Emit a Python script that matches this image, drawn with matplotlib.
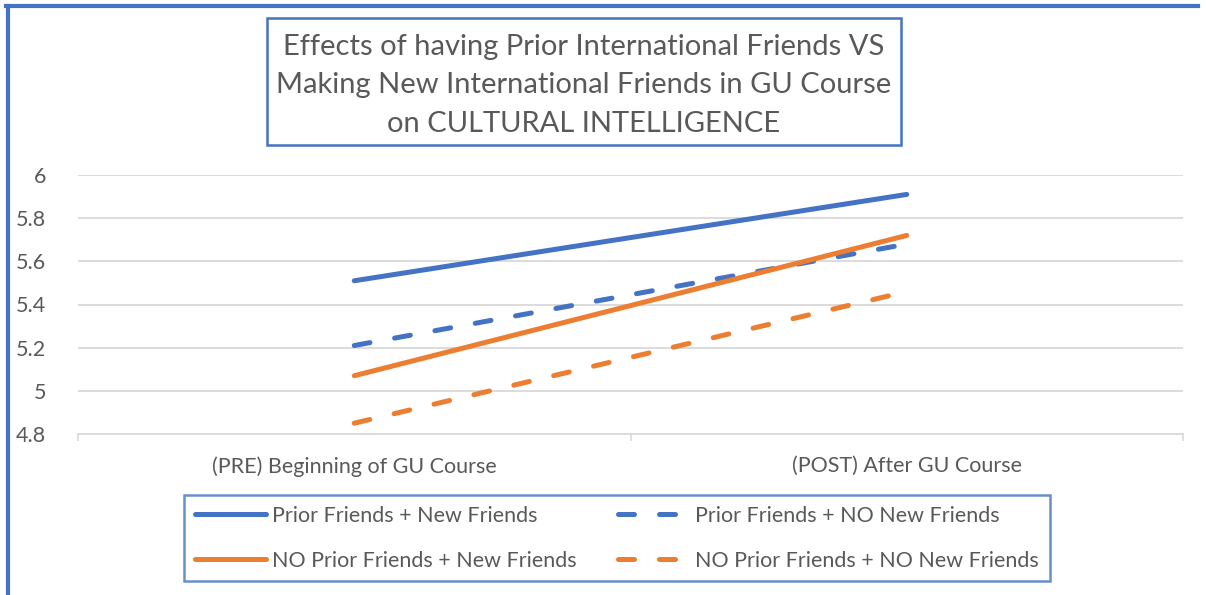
import numpy as np
import matplotlib.pyplot as plt
from matplotlib.patches import Rectangle
from matplotlib.lines import Line2D

plt.rcParams['font.family'] = ['Lato', 'DejaVu Sans']

categories = ['(PRE) Beginning of GU Course', '(POST) After GU Course']
prior_new = [5.51, 5.91]
prior_no_new = [5.21, 5.68]
no_prior_new = [5.07, 5.72]
no_prior_no_new = [4.85, 5.46]
title_lines = ['Effects of having Prior International Friends VS',
               'Making New International Friends in GU Course',
               'on CULTURAL INTELLIGENCE']

BLUE = '#4472C4'
ORANGE = '#ED7D31'
TXT = '#595959'
GRID = '#D9D9D9'

W, H = 1206, 595
fig = plt.figure(figsize=(W / 100, H / 100), dpi=100)
ax = fig.add_axes([78 / W, 1 - 434 / H, (1183 - 78) / W, (434 - 175) / H])

x = np.arange(len(categories))
lw = 3.6
dash = (0, (3.2, 5.0))
l1, = ax.plot(x, prior_new, color=BLUE, lw=lw, solid_capstyle='round',
              label='Prior Friends + New Friends')
l2, = ax.plot(x, prior_no_new, color=BLUE, lw=lw, ls=dash, dash_capstyle='round',
              label='Prior Friends + NO New Friends')
l3, = ax.plot(x, no_prior_new, color=ORANGE, lw=lw, solid_capstyle='round',
              label='NO Prior Friends + New Friends')
l4, = ax.plot(x, no_prior_no_new, color=ORANGE, lw=lw, ls=dash, dash_capstyle='round',
              label='NO Prior Friends + NO New Friends')

ax.set_xlim(-0.5, 1.5)
ax.set_ylim(4.8, 6.0)
ax.set_yticks(np.arange(4.8, 6.01, 0.2))
ax.set_yticklabels(['4.8', '5', '5.2', '5.4', '5.6', '5.8', '6'])
ax.set_xticks(x)
ax.set_xticklabels(categories)
ax.set_xticks([-0.5, 0.5, 1.5], minor=True)
ax.tick_params(axis='x', which='major', length=0, pad=16, labelsize=15.5, labelcolor=TXT)
ax.tick_params(axis='x', which='minor', length=5, width=1.2, color=GRID)
ax.tick_params(axis='y', length=0, pad=23, labelsize=15.5, labelcolor=TXT)
ax.grid(axis='y', color=GRID, lw=1.3)
ax.set_axisbelow(True)
for s in ['top', 'right', 'left']:
    ax.spines[s].set_visible(False)
ax.spines['bottom'].set_color(GRID)
ax.spines['bottom'].set_linewidth(1.3)

leg = ax.legend(handles=[l1, l3, l2, l4], ncol=2, loc='upper left',
                bbox_to_anchor=(184 / W, 1 - 495 / H),
                bbox_transform=fig.transFigure, fontsize=15.5, labelcolor=TXT,
                handlelength=3.3, handletextpad=0.3, columnspacing=1.9,
                labelspacing=1.15, borderpad=0.5, borderaxespad=0,
                fancybox=False, frameon=True)
leg.get_frame().set_edgecolor(BLUE)
leg.get_frame().set_linewidth(1.8)

# title box
fig.add_artist(Rectangle((267 / W, 1 - 145 / H), (901 - 267) / W, (145 - 18) / H,
                         transform=fig.transFigure, fill=False, edgecolor=BLUE, lw=1.8))
for i, line in enumerate(title_lines):
    fig.text(584 / W, 1 - (47 + 38.5 * i) / H, line, ha='center', va='center',
             fontsize=21, color=TXT)

# outer border (left and top)
fig.add_artist(Line2D([8 / W, 8 / W], [0, 1 - 6 / H], transform=fig.transFigure,
                      color=BLUE, lw=3))
fig.add_artist(Line2D([6 / W, 1198 / W], [1 - 6 / H, 1 - 6 / H], transform=fig.transFigure,
                      color=BLUE, lw=3))

fig.savefig('out.png', dpi=100)
